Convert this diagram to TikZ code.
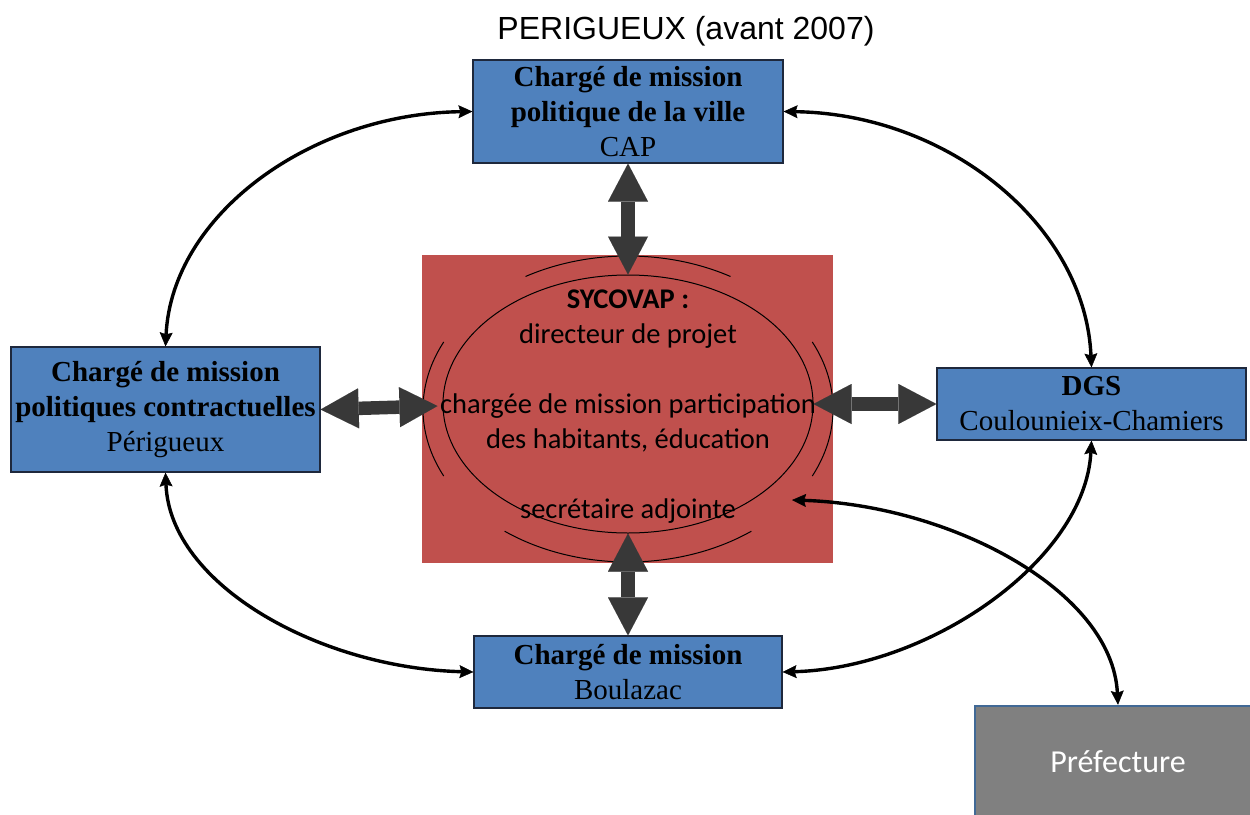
\documentclass[tikz,border=0pt]{standalone}
\usepackage{fontspec}
\setmainfont{Liberation Serif}
\newfontfamily\calib{Carlito}
\newfontfamily\arialf{Liberation Sans}
\usetikzlibrary{arrows.meta,shapes.geometric}
\definecolor{boxblue}{RGB}{79,129,189}
\definecolor{boxborder}{RGB}{30,40,60}
\definecolor{redbg}{RGB}{192,80,77}
\definecolor{darkarrow}{RGB}{56,56,56}
\definecolor{grayfill}{RGB}{128,128,128}
\definecolor{grayborder}{RGB}{65,105,150}
\begin{document}
\begin{tikzpicture}[x=1pt,y=-1pt,
  bluebox/.style={draw=boxborder, line width=1.2pt, fill=boxblue, inner sep=0pt, align=center, font=\fontsize{29}{35}\selectfont},
  bigarrow/.style={draw=darkarrow, line width=13.5pt, {Triangle[length=38pt,width=40pt,line width=0.01pt]}-{Triangle[length=38pt,width=40pt,line width=0.01pt]}},
  thinarrow/.style={draw=black, line width=3.4pt, {Stealth[length=14pt,width=13pt,inset=2pt,line width=0.5pt]}-{Stealth[length=14pt,width=13pt,inset=2pt,line width=0.5pt]}},
  thinarc/.style={draw=black, line width=1pt}
]
\clip (0,0) rectangle (1250,814);
\fill[white] (0,0) rectangle (1250,814);

\node[font=\arialf\fontsize{32}{38}\selectfont, inner sep=0pt] (title) at (686,31) {PERIGUEUX (avant 2007)};

\node[bluebox, minimum width=310pt, minimum height=103pt] (top) at (628,111.5)
  {\textbf{Chargé de mission}\\\textbf{politique de la ville}\\CAP};
\node[bluebox, minimum width=309pt, minimum height=125pt] (left) at (165.5,409.5)
  {\textbf{Chargé de mission}\\\textbf{politiques contractuelles}\\Périgueux};
\node[bluebox, minimum width=309pt, minimum height=72pt] (right) at (1091.5,404)
  {\textbf{DGS}\\Coulounieix-Chamiers};
\node[bluebox, minimum width=308pt, minimum height=72pt] (bottom) at (628,672)
  {\textbf{Chargé de mission}\\Boulazac};

\node[fill=redbg, minimum width=411pt, minimum height=308pt, inner sep=0pt] (sy) at (627.5,409) {};
\node[ellipse, draw=black, line width=1pt, minimum width=370pt, minimum height=258pt, inner sep=0pt] (el) at (628,404) {};
\coordinate (oc) at (628,409);
\draw[thinarc] (oc) ++(-120:205 and 153) arc[start angle=-120, end angle=-60, x radius=205, y radius=153];
\draw[thinarc] (oc) ++(53:205 and 153) arc[start angle=53, end angle=127, x radius=205, y radius=153];
\draw[thinarc] (oc) ++(154:205 and 153) arc[start angle=154, end angle=206, x radius=205, y radius=153];
\draw[thinarc] (oc) ++(-26:205 and 153) arc[start angle=-26, end angle=26, x radius=205, y radius=153];

\node[font=\calib\fontsize{28.5}{35}\selectfont, align=center, inner sep=0pt] (txt) at (628,407)
  {\textbf{SYCOVAP :}\\directeur de projet\\[35pt]chargée de mission participation\\des habitants, éducation\\[35pt]secrétaire adjointe};

\node[fill=grayfill, draw=grayborder, line width=2.5pt, minimum width=286pt, minimum height=112pt, inner sep=0pt,
  font=\calib\fontsize{32}{38}\selectfont, text=white] (pref) at (1118,762) {Préfecture};

\draw[bigarrow] (top.south) -- (el.north);
\draw[bigarrow] (el.south) -- (bottom.north);
\draw[bigarrow] (left.east) -- ([xshift=-5pt,yshift=-2pt]el.west);
\draw[bigarrow] (el.east) -- (right.west);

\draw[thinarrow] (top.west) .. controls (310,114) and (172,215) .. (left.north);
\draw[thinarrow] (top.east) .. controls (948,114) and (1085,225) .. (right.north);
\draw[thinarrow] (left.south) .. controls (170,585) and (320,668) .. (bottom.west);
\draw[thinarrow] (right.south) .. controls (1085,560) and (930,668) .. (bottom.east);
\coordinate (pin) at (792,500);
\draw[thinarrow] (pin) .. controls (950,505) and (1112,590) .. (pref.north);
\end{tikzpicture}
\end{document}
